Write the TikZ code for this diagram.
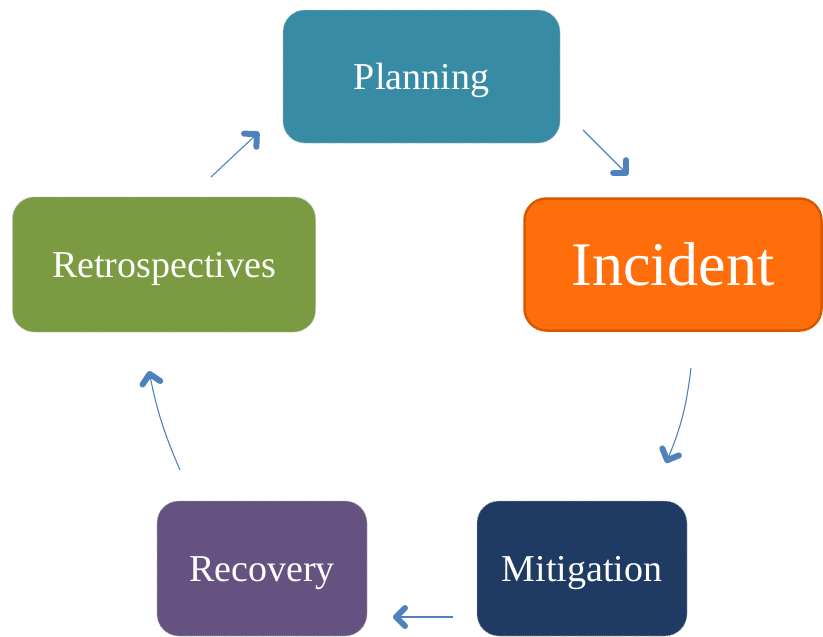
\documentclass[tikz,border=0pt]{standalone}
\usepackage{fontspec}
\setmainfont{Liberation Serif}
\usetikzlibrary{arrows.meta}

\definecolor{planteal}{RGB}{55,139,164}
\definecolor{incorange}{RGB}{255,110,10}
\definecolor{incedge}{RGB}{215,88,0}
\definecolor{retrogreen}{RGB}{122,155,66}
\definecolor{recpurple}{RGB}{102,82,128}
\definecolor{mitnavy}{RGB}{31,59,99}
\definecolor{arrowblue}{RGB}{79,129,189}

\tikzset{
  stage/.style={rectangle, rounded corners=22pt, text=white,
    draw=black!30, densely dotted, line width=0.8pt,
    text height=28pt, text depth=3pt,
    font=\fontsize{38}{40}\selectfont},
  cyc/.style={arrowblue, line width=1.1pt,
    -{Straight Barb[length=9pt,width=18pt,line width=6pt 0,round]}},
}

\begin{document}
\begin{tikzpicture}[x=1pt,y=-1pt]
  \useasboundingbox (0,0) rectangle (823,637);
  % the five stages
  \node[stage, fill=planteal, minimum width=277pt, minimum height=133pt]
    (plan) at (421.5,76.5) {Planning};
  \node[stage, fill=incorange, draw=incedge, solid, line width=2.5pt,
    minimum width=297pt, minimum height=132pt, text height=45pt,
    text depth=4pt, font=\fontsize{62}{64}\selectfont]
    (inc) at (673,264.5) {Incident};
  \node[stage, fill=retrogreen, minimum width=303pt, minimum height=135pt]
    (retro) at (164,264.5) {Retrospectives};
  \node[stage, fill=recpurple, minimum width=210pt, minimum height=135pt]
    (rec) at (262,568.5) {Recovery};
  \node[stage, fill=mitnavy, minimum width=210pt, minimum height=135pt]
    (mit) at (582,568.5) {Mitigation};
  % arrow ends
  \coordinate (retro-out) at (211,177);
  \coordinate (plan-in) at (259,132);
  \coordinate (plan-out) at (583,130);
  \coordinate (inc-in) at (628,175);
  \coordinate (inc-out) at (691,368);
  \coordinate (mit-in) at (666,463);
  \coordinate (mit-out) at (453,617);
  \coordinate (rec-in) at (393,617);
  \coordinate (rec-out) at (180,470);
  \coordinate (retro-in) at (149,371);
  \draw[cyc] (retro-out) -- (plan-in);
  \draw[cyc] (plan-out) -- (inc-in);
  \draw[cyc] (inc-out) to[bend left=8] (mit-in);
  \draw[cyc] (mit-out) -- (rec-in);
  \draw[cyc] (rec-out) to[bend left=6] (retro-in);
\end{tikzpicture}
\end{document}
